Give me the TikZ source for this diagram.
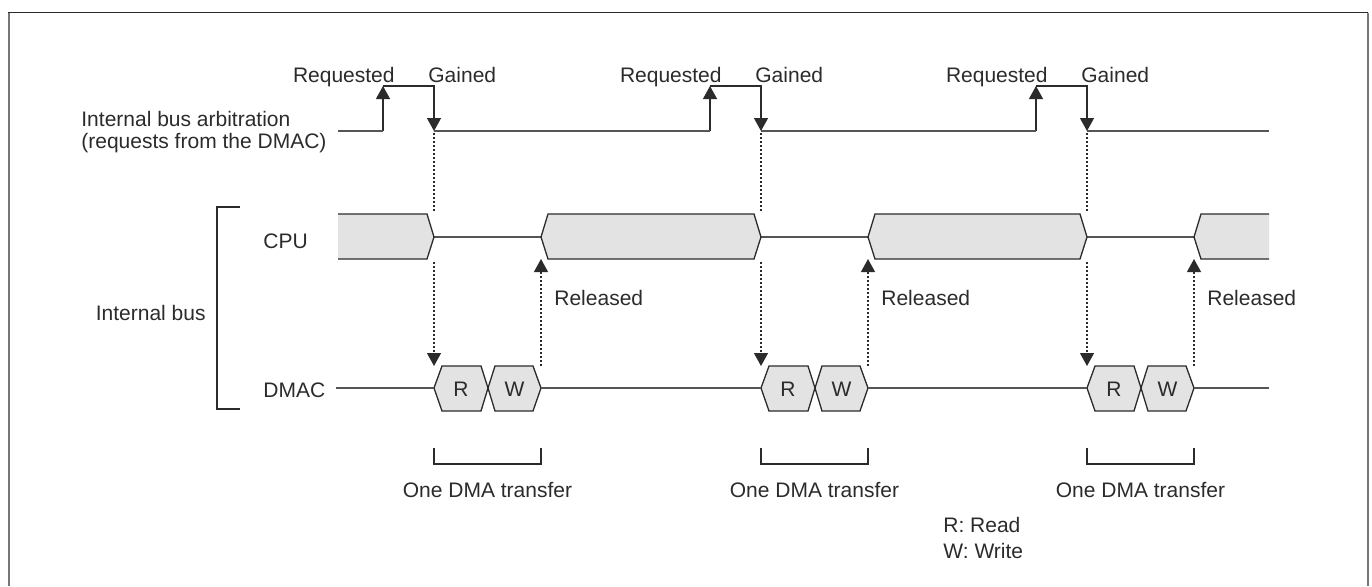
\documentclass[tikz,border=0pt]{standalone}
\usepackage{fontspec}
\setmainfont{Liberation Sans}
\usetikzlibrary{arrows.meta}
\definecolor{ln}{HTML}{2B2B2B}
\definecolor{mid}{HTML}{555555}
\definecolor{band}{HTML}{E3E3E4}
\definecolor{frm}{HTML}{777777}
\begin{document}
\begin{tikzpicture}[x=0.5pt,y=-0.5pt,
  font=\fontsize{10.5}{12.6}\selectfont,
  every node/.style={inner sep=0pt, text=ln},
  sig/.style={draw=ln, line width=0.65pt},
  midline/.style={draw=mid, line width=0.75pt},
  tip/.style={-{Triangle[width=7pt,length=6.5pt]}},
  dot/.style={draw=ln, line width=0.6pt, dash pattern=on 1pt off 1pt}]
\useasboundingbox (0,0) rectangle (1372,586);
% frame
\draw[frm, line width=1pt] (8.5,586) -- (8.5,12.5);
\draw[frm, line width=1pt] (1367.5,12.5) -- (1367.5,586);
\draw[ln, line width=0.8pt] (8,12.5) -- (1368,12.5);
% left labels
\node[anchor=base west] (arb1) at (81,126) {Internal bus arbitration};
\node[anchor=base west] (arb2) at (81,148) {(requests from the DMAC)};
\node[anchor=base west] (cpu) at (263,248) {CPU};
\node[anchor=base west] (dmac) at (263,397) {DMAC};
\node[anchor=base east] (ib) at (206,320) {Internal bus};
\draw[sig] (240,207) -- (217,207) -- (217,409) -- (240,409);
% legend
\node[anchor=base west] (lr) at (943,532) {R: Read};
\node[anchor=base west] (lw) at (943,558) {W: Write};
% start / end coordinates
\coordinate (a0) at (338,131);
\coordinate (aE) at (1269,131);
\coordinate (c0) at (338,237);
\coordinate (d0) at (336,388);
\coordinate (dE) at (1269,388);
\foreach \i/\o in {1/0,2/327,3/653}{
  \pgfmathsetmacro\q{383+\o}
  \pgfmathsetmacro\g{434+\o}
  \pgfmathsetmacro\r{541+\o}
  \pgfmathsetmacro\m{488+\o}
  \coordinate (q\i lo) at (\q,131);
  \coordinate (q\i hi) at (\q,86);
  \coordinate (g\i hi) at (\g,86);
  \coordinate (g\i lo) at (\g,131);
  \coordinate (g\i c1) at (\g,133);
  \coordinate (g\i c2) at (\g,211);
  \coordinate (g\i c3) at (\g,262);
  \coordinate (g\i d) at (\g,366);
  \coordinate (g\i cm) at (\g,237);
  \coordinate (r\i cm) at (\r,237);
  \coordinate (r\i cb) at (\r,259);
  \coordinate (r\i d) at (\r,366);
  \coordinate (g\i dm) at (\g,388);
  \coordinate (r\i dm) at (\r,388);
  % labels
  \node[anchor=base east] (req\i) at ({\q+12},82) {Requested};
  \node[anchor=base west] (gai\i) at ({\g-6},82) {Gained};
  \node[anchor=base west] (rel\i) at ({\r+13},305) {Released};
  \node[anchor=base] (one\i) at ({(\g+\r)/2},497) {One DMA transfer};
  % arbitration pulses
  \draw[sig,tip] (q\i lo) -- (q\i hi);
  \draw[sig,tip] (q\i hi) -- (g\i hi) -- (g\i lo);
  % CPU idle line
  \draw[midline] (g\i cm) -- (r\i cm);
  % DMAC R/W hexagons
  \filldraw[fill=band,sig] (\g,388) -- ({\g+8},366) -- ({\m-7},366) -- (\m,388) -- ({\m-7},411) -- ({\g+8},411) -- cycle;
  \filldraw[fill=band,sig] (\m,388) -- ({\m+7},366) -- ({\r-8},366) -- (\r,388) -- ({\r-8},411) -- ({\m+7},411) -- cycle;
  \node (rd\i) at ({(\g+\m)/2},389) {R};
  \node (wr\i) at ({(\m+\r)/2},389) {W};
  % dotted connectors
  \draw[dot] (g\i c1) -- (g\i c2);
  \draw[dot,tip] (g\i c3) -- (g\i d);
  \draw[dot,tip] (r\i d) -- (r\i cb);
  % bracket
  \draw[sig] (\g,448) -- (\g,464) -- (\r,464) -- (\r,448);
}
% arbitration low line
\draw[midline] (a0) -- (q1lo);
\draw[midline] (g1lo) -- (q2lo);
\draw[midline] (g2lo) -- (q3lo);
\draw[midline] (g3lo) -- (aE);
% CPU bands
\fill[band] (338,214) -- (427,214) -- (434,237) -- (427,259) -- (338,259) -- cycle;
\draw[sig] (338,214) -- (427,214) -- (434,237) -- (427,259) -- (338,259);
\filldraw[fill=band,sig] (541,237) -- (548,214) -- (754,214) -- (761,237) -- (754,259) -- (548,259) -- cycle;
\filldraw[fill=band,sig] (868,237) -- (875,214) -- (1080,214) -- (1087,237) -- (1080,259) -- (875,259) -- cycle;
\fill[band] (1194,237) -- (1201,214) -- (1269,214) -- (1269,259) -- (1201,259) -- cycle;
\draw[sig] (1269,214) -- (1201,214) -- (1194,237) -- (1201,259) -- (1269,259);
% DMAC line
\draw[midline] (d0) -- (g1dm);
\draw[midline] (r1dm) -- (g2dm);
\draw[midline] (r2dm) -- (g3dm);
\draw[midline] (r3dm) -- (dE);
\end{tikzpicture}
\end{document}
